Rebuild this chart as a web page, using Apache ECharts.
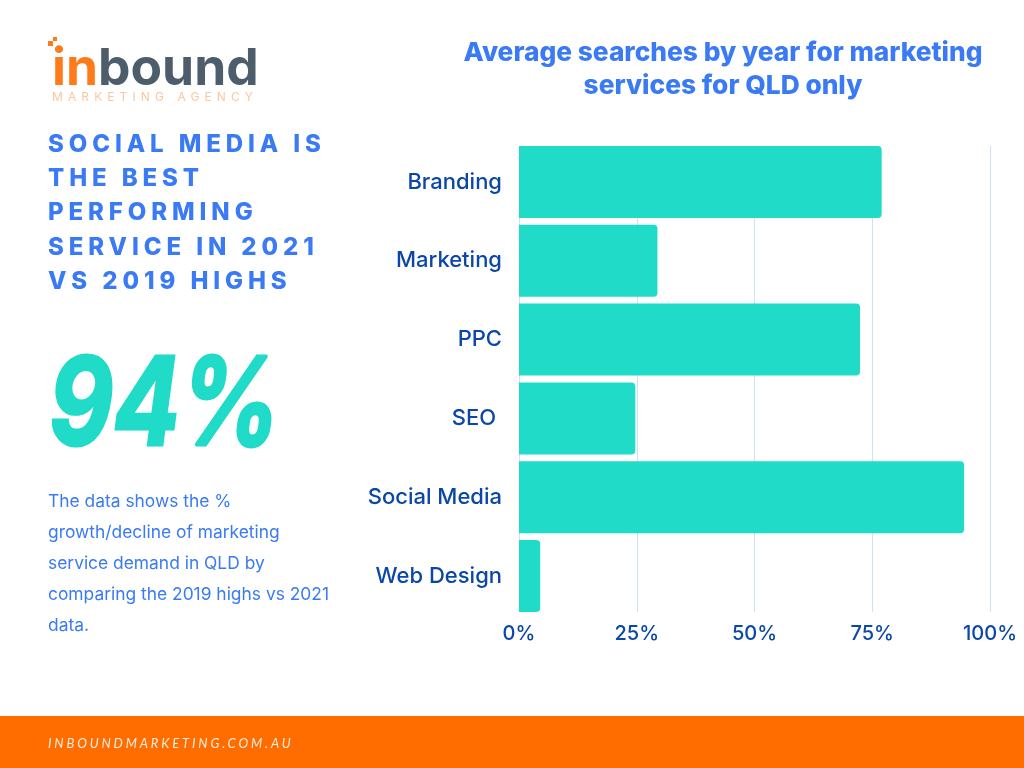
<!DOCTYPE html>
<html>
<head>
<meta charset="utf-8">
<style>
  html, body { margin: 0; padding: 0; background: #fff; }
  #chart { position: absolute; left: 0; top: 0; width: 1024px; height: 768px; }
  .spaced { position: absolute; white-space: pre; font-family: Inter, sans-serif; }
  #headline { left: 48px; top: 127px; font-size: 24px; line-height: 34.2px; font-weight: 800; letter-spacing: 4.9px; color: #3a7af5; }
  #tagline { left: 52px; top: 90px; font-size: 12px; line-height: 14px; letter-spacing: 5.1px; color: #fbc79f; }
  #footer { left: 48px; top: 735px; font-family: Lato, sans-serif; font-style: italic; font-size: 13px; line-height: 16px; letter-spacing: 2.87px; color: #ffeede; }
</style>
</head>
<body>
<div id="chart"></div>
<div id="tagline" class="spaced">MARKETING AGENCY</div>
<div id="headline" class="spaced">SOCIAL MEDIA IS
THE BEST
PERFORMING
SERVICE IN 2021
VS 2019 HIGHS</div>
<div id="footer" class="spaced">INBOUNDMARKETING.COM.AU</div>
<script src="https://cdn.jsdelivr.net/npm/echarts@6/dist/echarts.min.js"></script>
<script>
const categories = ['Branding', 'Marketing', 'PPC', 'SEO ', 'Social Media', 'Web Design']
const growth = [77, 29.4, 72.4, 24.7, 94.5, 4.5]
const titleLines = 'Average searches by year for marketing\nservices for QLD only'
const bigNumber = '94%'
const bodyLines = [
  'The data shows the %',
  'growth/decline of marketing',
  'service demand in QLD by',
  'comparing the 2019 highs vs 2021',
  'data.'
]

const TEAL = '#1fdbc7'
const BLUE = '#3a7af5'
const NAVY = '#0b47a8'
const FONT = 'Inter, sans-serif'

const bodyText = bodyLines.map((line, i) => ({
  type: 'text',
  left: 48,
  top: 493 + i * 31,
  style: { text: line, font: '400 17.4px ' + FONT, fill: BLUE }
}))

const chart = echarts.init(document.getElementById('chart'))
chart.setOption({
  animation: false,
  backgroundColor: '#fff',
  title: {
    text: titleLines,
    left: 718,
    top: 32,
    textAlign: 'center',
    textStyle: { color: BLUE, fontFamily: FONT, fontSize: 26.3, fontWeight: 800, lineHeight: 33 }
  },
  // second grid only carries the gridlines, they stop at the bars' outer edges
  grid: [
    { left: 519, top: 142.5, width: 471, height: 473 },
    { left: 519, top: 146, width: 471, height: 466 }
  ],
  xAxis: [{
    type: 'value',
    min: 0,
    max: 100,
    interval: 25,
    axisLine: { show: false },
    axisTick: { show: false },
    splitLine: { show: false },
    axisLabel: {
      formatter: '{value}%',
      color: NAVY,
      fontFamily: FONT,
      fontSize: 20,
      fontWeight: 500,
      margin: 8
    }
  }, {
    type: 'value',
    gridIndex: 1,
    min: 0,
    max: 100,
    interval: 25,
    axisLine: { show: false },
    axisTick: { show: false },
    axisLabel: { show: false },
    splitLine: { lineStyle: { color: '#cfe2f5', width: 1 } }
  }],
  yAxis: [{
    type: 'category',
    inverse: true,
    data: categories,
    axisLine: { show: false },
    axisTick: { show: false },
    splitLine: { show: false },
    axisLabel: { color: NAVY, fontFamily: FONT, fontSize: 22, fontWeight: 500, margin: 17 }
  }, {
    type: 'category',
    gridIndex: 1,
    show: false,
    data: categories
  }],
  series: [{
    type: 'bar',
    data: growth,
    barWidth: 72,
    itemStyle: { color: TEAL, borderRadius: [0, 4, 4, 0] }
  }],
  graphic: [
    { type: 'rect', left: 0, top: 716, shape: { width: 1024, height: 52 }, style: { fill: '#ff6c00' } },
    { type: 'rect', left: 48, top: 41, shape: { width: 5, height: 5 }, style: { fill: '#ff7a1a' } },
    { type: 'rect', left: 53, top: 37, shape: { width: 4, height: 4 }, style: { fill: '#ff7a1a' } },
    {
      type: 'text',
      left: 52,
      top: 44,
      style: {
        text: '{a|in}{b|bound}',
        rich: {
          a: { font: '700 51.5px ' + FONT, fill: '#ff7a1a' },
          b: { font: '700 51.5px ' + FONT, fill: '#4e5d6c' }
        }
      }
    },
    {
      type: 'text',
      x: 49,
      y: 347,
      scaleX: 0.81,
      style: {
        text: bigNumber,
        font: 'italic 700 122px ' + FONT,
        fill: TEAL,
        stroke: TEAL,
        lineWidth: 3,
        lineJoin: 'round'
      }
    },
    ...bodyText
  ]
})
</script>
</body>
</html>
